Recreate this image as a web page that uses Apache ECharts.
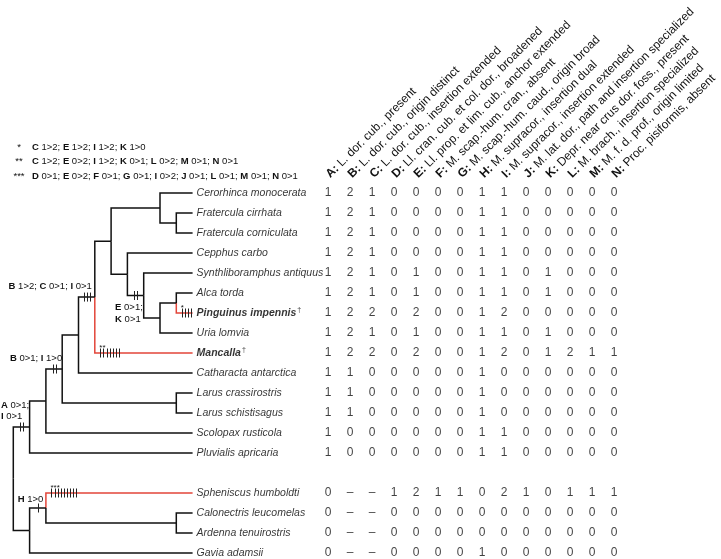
<!DOCTYPE html>
<html><head><meta charset="utf-8">
<script src="https://cdn.jsdelivr.net/npm/echarts@6/dist/echarts.min.js"></script>
<style>html,body{margin:0;padding:0;background:#fff}#c{width:721px;height:559px}</style>
</head><body><div id="c"></div>
<script>
// ---------------- data ----------------
const taxa = ['Cerorhinca monocerata','Fratercula cirrhata','Fratercula corniculata','Cepphus carbo',
  'Synthliboramphus antiquus','Alca torda','Pinguinus impennis','Uria lomvia','Mancalla',
  'Catharacta antarctica','Larus crassirostris','Larus schistisagus','Scolopax rusticola',
  'Pluvialis apricaria','','Spheniscus humboldti','Calonectris leucomelas','Ardenna tenuirostris','Gavia adamsii'];
const extinctTaxa = [6, 8];
const characters = ['A','B','C','D','E','F','G','H','I','J','K','L','M','N'];
const characterNames = ['L. dor. cub., present','L. dor. cub., origin distinct','L. dor. cub., insertion extended',
  'Ll. cran. cub. et col. dor., broadened','Ll. prop. et lim. cub., anchor extended','M. scap.-hum. cran., absent',
  'M. scap.-hum. caud., origin broad','M. supracor., insertion dual','M. supracor., insertion extended',
  'M. lat. dor., path and insertion specialized','Depr. near crus dor. foss., present',
  'M. brach., insertion specialized','M. f. d. prof., origin limited','Proc. pisiformis, absent'];
const scores = [
  '1 2 1 0 0 0 0 1 1 0 0 0 0 0',
  '1 2 1 0 0 0 0 1 1 0 0 0 0 0',
  '1 2 1 0 0 0 0 1 1 0 0 0 0 0',
  '1 2 1 0 0 0 0 1 1 0 0 0 0 0',
  '1 2 1 0 1 0 0 1 1 0 1 0 0 0',
  '1 2 1 0 1 0 0 1 1 0 1 0 0 0',
  '1 2 2 0 2 0 0 1 2 0 0 0 0 0',
  '1 2 1 0 1 0 0 1 1 0 1 0 0 0',
  '1 2 2 0 2 0 0 1 2 0 1 2 1 1',
  '1 1 0 0 0 0 0 1 0 0 0 0 0 0',
  '1 1 0 0 0 0 0 1 0 0 0 0 0 0',
  '1 1 0 0 0 0 0 1 0 0 0 0 0 0',
  '1 0 0 0 0 0 0 1 1 0 0 0 0 0',
  '1 0 0 0 0 0 0 1 1 0 0 0 0 0',
  null,
  '0 – – 1 2 1 1 0 2 1 0 1 1 1',
  '0 – – 0 0 0 0 0 0 0 0 0 0 0',
  '0 – – 0 0 0 0 0 0 0 0 0 0 0',
  '0 – – 0 0 0 0 1 0 0 0 0 0 0'
];
// tree topology: [id, depth level, children]; leaves are row indices (depth 11)
const tree = ['root', 0, [
  ['ingroup', 1, [
    ['n2', 2, [
      ['n3', 3, [
        ['n4', 4, [
          ['n5', 5, [
            ['n6', 6, [
              ['n9a', 9, [0, ['n10a', 10, [1, 2]]]],
              ['n7', 7, [3, ['n8', 8, [4, ['n9', 9, [['n10', 10, [5, 6]], 7]]]]]]
            ]],
            8
          ]],
          9
        ]],
        ['n10L', 10, [10, 11]]
      ]],
      12
    ]],
    13
  ]],
  ['outgroup', 1, [
    ['n2o', 2, [15, ['n10p', 10, [16, 17]]]],
    18
  ]]
]];
const leafLevel = 11;
const branchChanges = {
  ingroup: ['A 0>1;', 'I 0>1'],
  n3: ['B 0>1; I 1>0'],
  n5: ['B 1>2; C 0>1; I 0>1'],
  n8: ['E 0>1;', 'K 0>1'],
  n2o: ['H 1>0']
};
const tickCounts = {ingroup: 2, n3: 2, n5: 3, n8: 2, n2o: 1, L6: 4, L8: 7, L15: 9};
const starMarks = {L6: '*', L8: '**', L15: '***'};
const redBranches = ['L6', 'L8', 'L15'];
const legendMarks = ['*', '**', '***'];
const legendChanges = [
  'C 1>2; E 1>2; I 1>2; K 1>0',
  'C 1>2; E 0>2; I 1>2; K 0>1; L 0>2; M 0>1; N 0>1',
  'D 0>1; E 0>2; F 0>1; G 0>1; I 0>2; J 0>1; L 0>1; M 0>1; N 0>1'
];

// ---------------- build ----------------
const FONT = "'Liberation Sans', Arial, sans-serif";
const INK = '#111';
const RED = '#e2453a';
const branches = [];
function walk(node) {
  let id, level, y, kids = null;
  if (typeof node === 'number') { id = 'L' + node; level = leafLevel; y = node; }
  else {
    id = node[0]; level = node[1];
    kids = node[2].map(c => walk(c));
    y = (kids[0].y + kids[kids.length - 1].y) / 2;
  }
  if (kids) kids.forEach(k => { branches.push([level, y, k.level, k.y, k.id]); });
  return {id, level, y, kids};
}
walk(tree);

function boldCodes(s) { return s.replace(/([A-N]) (\d>\d)/g, '{b|$1} $2'); }
const richSmall = {
  b: {fontWeight: 'bold', fontFamily: FONT, fontSize: 9.5, fill: INK, color: INK}
};

const labelLayout = {
  ingroup: {anchor: 'start', dx: -12.3, align: 'left', dy: [-22, -11]},
  n3: {anchor: 'end', dx: 0, align: 'right', dy: [-11]},
  n5: {anchor: 'end', dx: -3, align: 'right', dy: [-11]},
  n8: {anchor: 'start', dx: -12.3, align: 'left', dy: [12, 23.5]},
  n2o: {anchor: 'end', dx: -2.6, align: 'right', dy: [-9]}
};

function renderBranch(params, api) {
  const p0 = api.coord([api.value(0), api.value(1)]);
  const p1 = api.coord([api.value(2), api.value(3)]);
  const id = branches[params.dataIndex][4];
  const color = redBranches.includes(id) ? RED : INK;
  const els = [{
    type: 'polyline',
    shape: {points: [[p0[0], p0[1]], [p0[0], p1[1]], [p1[0], p1[1]]]},
    style: {stroke: color, lineWidth: 1.5, fill: null}
  }];
  const n = tickCounts[id] || 0;
  if (n) {
    const sp = 3.1;
    let x0;
    if (starMarks[id]) x0 = p0[0] + 5.5;
    else x0 = (p0[0] + p1[0]) / 2 - (n - 1) * sp / 2;
    for (let i = 0; i < n; i++) {
      const x = Math.round(x0 + i * sp) + 0.5;
      els.push({type: 'line', shape: {x1: x, y1: p1[1] - 4.5, x2: x, y2: p1[1] + 4.5},
        style: {stroke: '#222', lineWidth: 1}});
    }
    if (starMarks[id]) {
      els.push({type: 'text', style: {text: starMarks[id], x: x0 - 1, y: p1[1] - 5, align: 'left',
        verticalAlign: 'middle', fontFamily: FONT, fontSize: 8, fill: INK}});
    }
  }
  const lab = branchChanges[id];
  if (lab) {
    const L = labelLayout[id];
    const ax = (L.anchor === 'start' ? p0[0] : p1[0]) + L.dx;
    lab.forEach((t, i) => {
      els.push({type: 'text', style: {text: boldCodes(t), x: ax, y: p1[1] + L.dy[i], align: L.align,
        verticalAlign: 'middle', fontFamily: FONT, fontSize: 9.5, fill: INK, rich: richSmall}});
    });
  }
  return {type: 'group', children: els};
}

const leafData = taxa.map((t, i) => t ? [leafLevel, i, i] : null).filter(Boolean);
const matrixData = [];
scores.forEach((row, r) => {
  if (!row) return;
  row.split(' ').forEach((v, c) => matrixData.push([c, r, v]));
});

const legendGraphics = [];
legendMarks.forEach((m, i) => {
  const y = 147 + i * 14.5;
  legendGraphics.push({type: 'text', x: 19, y: y, style: {text: m, align: 'center', verticalAlign: 'middle',
    fontFamily: FONT, fontSize: 9.5, fill: INK}});
  legendGraphics.push({type: 'text', x: 32, y: y, style: {text: boldCodes(legendChanges[i]), align: 'left',
    verticalAlign: 'middle', fontFamily: FONT, fontSize: 9.5, fill: INK, rich: richSmall}});
});

const chart = echarts.init(document.getElementById('c'), null, {renderer: 'canvas'});
chart.setOption({
  backgroundColor: '#fff',
  animation: false,
  grid: [
    {left: 13.3, width: 179.3, top: 183, height: 380, outerBoundsMode: 'none', containLabel: false},
    {left: 317, width: 308, top: 183, height: 380, outerBoundsMode: 'none', containLabel: false}
  ],
  xAxis: [
    {type: 'value', gridIndex: 0, min: 0, max: leafLevel, show: false},
    {type: 'category', gridIndex: 1, data: characters, position: 'top',
      axisLine: {show: false}, axisTick: {show: false}, splitLine: {show: false},
      axisLabel: {interval: 0, rotate: 45, margin: 7, hideOverlap: false,
        formatter: (v, i) => '{b|' + v + ':} {n|' + characterNames[i] + '}',
        rich: {
          b: {fontFamily: FONT, fontWeight: 'bold', fontSize: 12, color: INK},
          n: {fontFamily: FONT, fontSize: 12, color: INK}
        }}}
  ],
  yAxis: [
    {type: 'value', gridIndex: 0, min: -0.5, max: 18.5, inverse: true, show: false},
    {type: 'value', gridIndex: 1, min: -0.5, max: 18.5, inverse: true, show: false}
  ],
  graphic: legendGraphics,
  series: [
    {type: 'custom', xAxisIndex: 0, yAxisIndex: 0, data: branches.map(b => b.slice(0, 4)),
      renderItem: renderBranch, clip: false, silent: true},
    {type: 'scatter', xAxisIndex: 0, yAxisIndex: 0, data: leafData, symbolSize: 0, silent: true,
      label: {show: true, position: 'right', distance: 4, color: '#000',
        formatter: p => {
          const r = p.value[2];
          return extinctTaxa.includes(r) ? '{x|' + taxa[r] + '}{d|†}' : '{i|' + taxa[r] + '}';
        },
        rich: {
          i: {fontFamily: FONT, fontStyle: 'italic', fontSize: 10.5, color: '#000'},
          x: {fontFamily: FONT, fontStyle: 'italic', fontWeight: 'bold', fontSize: 10.5, color: '#000'},
          d: {fontFamily: FONT, fontSize: 7, color: '#000', padding: [0, 0, 5, 1]}
        }}},
    {type: 'scatter', xAxisIndex: 1, yAxisIndex: 1, data: matrixData, symbolSize: 0, silent: true,
      label: {show: true, position: 'inside', formatter: p => p.value[2],
        fontFamily: FONT, fontSize: 12, color: INK}}
  ]
});
</script></body></html>
